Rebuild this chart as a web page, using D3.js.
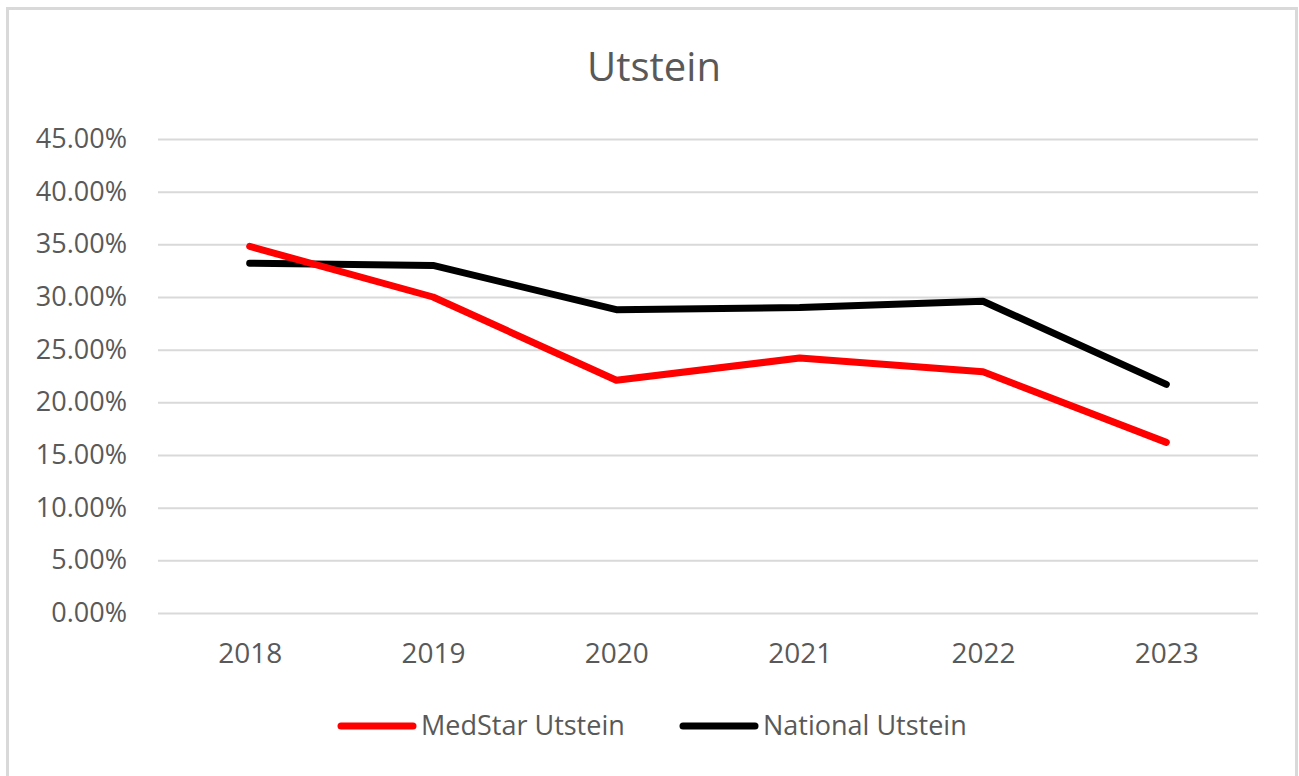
<!DOCTYPE html>
<html>
<head>
<meta charset="utf-8">
<script src="https://cdn.jsdelivr.net/npm/d3@7"></script>
<style>
  body { margin: 0; background: #fff; }
  svg text { font-family: "Open Sans", Lato, sans-serif; }
</style>
</head>
<body>
<svg width="1299" height="776"></svg>
<script>
// Chart data
let years = ['2018', '2019', '2020', '2021', '2022', '2023'];
let medstar = [0.348, 0.300, 0.221, 0.242, 0.229, 0.162];
let national = [0.332, 0.330, 0.288, 0.290, 0.296, 0.217];
let yTicks = [0, 0.05, 0.10, 0.15, 0.20, 0.25, 0.30, 0.35, 0.40, 0.45];

let seriesNames = ['MedStar Utstein', 'National Utstein'];
let seriesColors = ['#ff0000', '#000000'];

let svg = d3.select('svg');
let margin = { top: 139, right: 41, bottom: 163, left: 158 };
let width = +svg.attr('width');
let height = +svg.attr('height');

// Outer chart frame
svg.append('rect')
    .attr('x', 7.5).attr('y', 8.5)
    .attr('width', 1289).attr('height', 790)
    .attr('fill', '#fff')
    .attr('stroke', '#d9d9d9')
    .attr('stroke-width', 3);

let x = d3.scalePoint()
    .domain(years)
    .range([margin.left, width - margin.right])
    .padding(0.5);

let y = d3.scaleLinear()
    .domain([0, 0.45])
    .range([height - margin.bottom, margin.top]);

// Gridlines + y labels
let yAxis = svg.append('g')
    .attr('transform', 'translate(' + margin.left + ',0)')
    .call(d3.axisLeft(y)
        .tickValues(yTicks)
        .tickSize(-(width - margin.left - margin.right))
        .tickPadding(31)
        .tickFormat(d3.format('.2%')));
yAxis.select('.domain').remove();
yAxis.selectAll('.tick line').attr('stroke', '#d9d9d9').attr('stroke-width', 2);
yAxis.selectAll('.tick text')
    .attr('fill', '#595959')
    .style('font-size', '27px');

// x labels
let xAxis = svg.append('g')
    .attr('transform', 'translate(0,' + (height - margin.bottom) + ')')
    .call(d3.axisBottom(x).tickSize(0).tickPadding(30));
xAxis.select('.domain').remove();
xAxis.selectAll('.tick text')
    .attr('fill', '#595959')
    .style('font-size', '28px');

// Lines
let line = d3.line()
    .x((d, i) => x(years[i]))
    .y(d => y(d));

[national, medstar].forEach((vals, k) => {
    let idx = k === 0 ? 1 : 0;
    svg.append('path')
        .datum(vals)
        .attr('d', line)
        .attr('fill', 'none')
        .attr('stroke', seriesColors[idx])
        .attr('stroke-width', 7)
        .attr('stroke-linejoin', 'round')
        .attr('stroke-linecap', 'round');
});

// Title
svg.append('text')
    .attr('x', 654)
    .attr('y', 81)
    .attr('text-anchor', 'middle')
    .attr('fill', '#595959')
    .style('font-size', '40px')
    .text('Utstein');

// Legend
let legendX = [341, 683];
seriesNames.forEach((name, i) => {
    let g = svg.append('g').attr('transform', 'translate(' + legendX[i] + ',726)');
    g.append('line')
        .attr('x1', 0).attr('x2', 72)
        .attr('stroke', seriesColors[i])
        .attr('stroke-width', 7)
        .attr('stroke-linecap', 'round');
    g.append('text')
        .attr('x', 80)
        .attr('y', 9)
        .attr('fill', '#595959')
        .style('font-size', '27px')
        .text(name);
});
</script>
</body>
</html>
